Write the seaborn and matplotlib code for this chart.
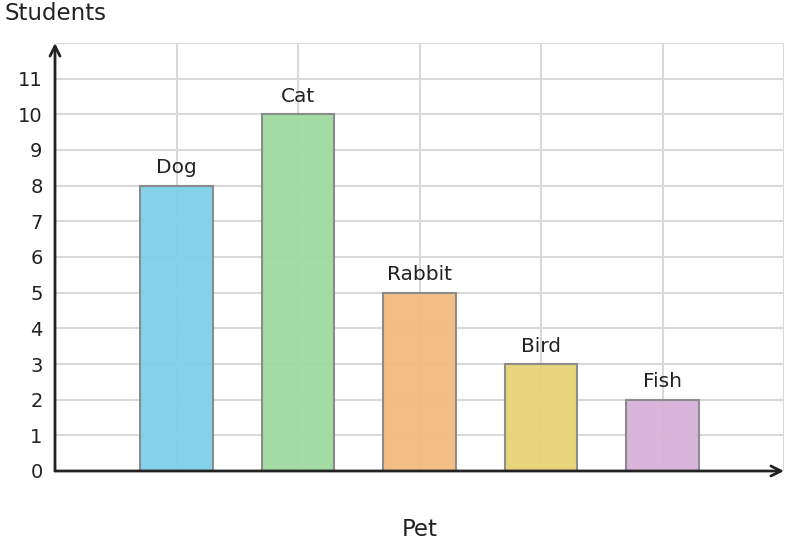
import pandas as pd
import seaborn as sns
import matplotlib.pyplot as plt

sns.set_style("white")
plt.rcParams['font.family'] = ['DejaVu Sans']

pets = ['Dog', 'Cat', 'Rabbit', 'Bird', 'Fish']
students = [8, 10, 5, 3, 2]
bar_colors = ['#7fcfe9', '#9edb9f', '#f3bb80', '#e6d374', '#d7b1d9']

df = pd.DataFrame({'Pet': pets, 'Students': students})

fig = plt.figure(figsize=(7.88, 5.48), dpi=100)
ax = fig.add_axes([55 / 788, 77 / 548, 729 / 788, 428 / 548])

sns.barplot(data=df, x='Pet', y='Students', hue='Pet', palette=bar_colors,
            saturation=1, width=0.6, edgecolor='#888888', linewidth=1.5, alpha=0.95,
            legend=False, ax=ax)

for i, c in enumerate(ax.containers):
    ax.bar_label(c, labels=[pets[i]], padding=6, fontsize=14.5, color='#222222')

ax.set_xlim(-1, 5)
ax.set_ylim(0, 12)
ax.set_xticks(range(0, 5))
ax.set_xticklabels([])
ax.set_xticks([-1, 5], minor=True)
ax.set_yticks(range(0, 12))
ax.set_yticks([12], minor=True)
ax.tick_params(axis='y', which='major', direction='in', length=8, width=1.5,
               labelsize=14, colors='#222222', pad=9)
ax.tick_params(axis='x', which='major', direction='in', length=5, width=1.5, colors='#888888')
ax.tick_params(which='minor', length=0)
ax.grid(True, which='both', color='#d9d9d9', linewidth=1.5)
ax.set_axisbelow(True)

for s in ax.spines.values():
    s.set_visible(False)

# axes drawn as arrows
ax.annotate('', xy=(1.0, 0), xytext=(0, 0), xycoords='axes fraction',
            arrowprops=dict(arrowstyle='->', color='#222222', lw=2, mutation_scale=18,
                            shrinkA=0, shrinkB=0), annotation_clip=False)
ax.annotate('', xy=(0, 1.0), xytext=(0, 0), xycoords='axes fraction',
            arrowprops=dict(arrowstyle='->', color='#222222', lw=2, mutation_scale=18,
                            shrinkA=0, shrinkB=0), annotation_clip=False)

ax.set_xlabel('')
ax.set_ylabel('')
fig.text(4 / 788, 1 - 13 / 548, 'Students', fontsize=16.5, color='#222222', ha='left', va='center')
fig.text(420 / 788, 1 - 530 / 548, 'Pet', fontsize=16.5, color='#222222', ha='center', va='center')

plt.savefig('out.png', dpi=100)
